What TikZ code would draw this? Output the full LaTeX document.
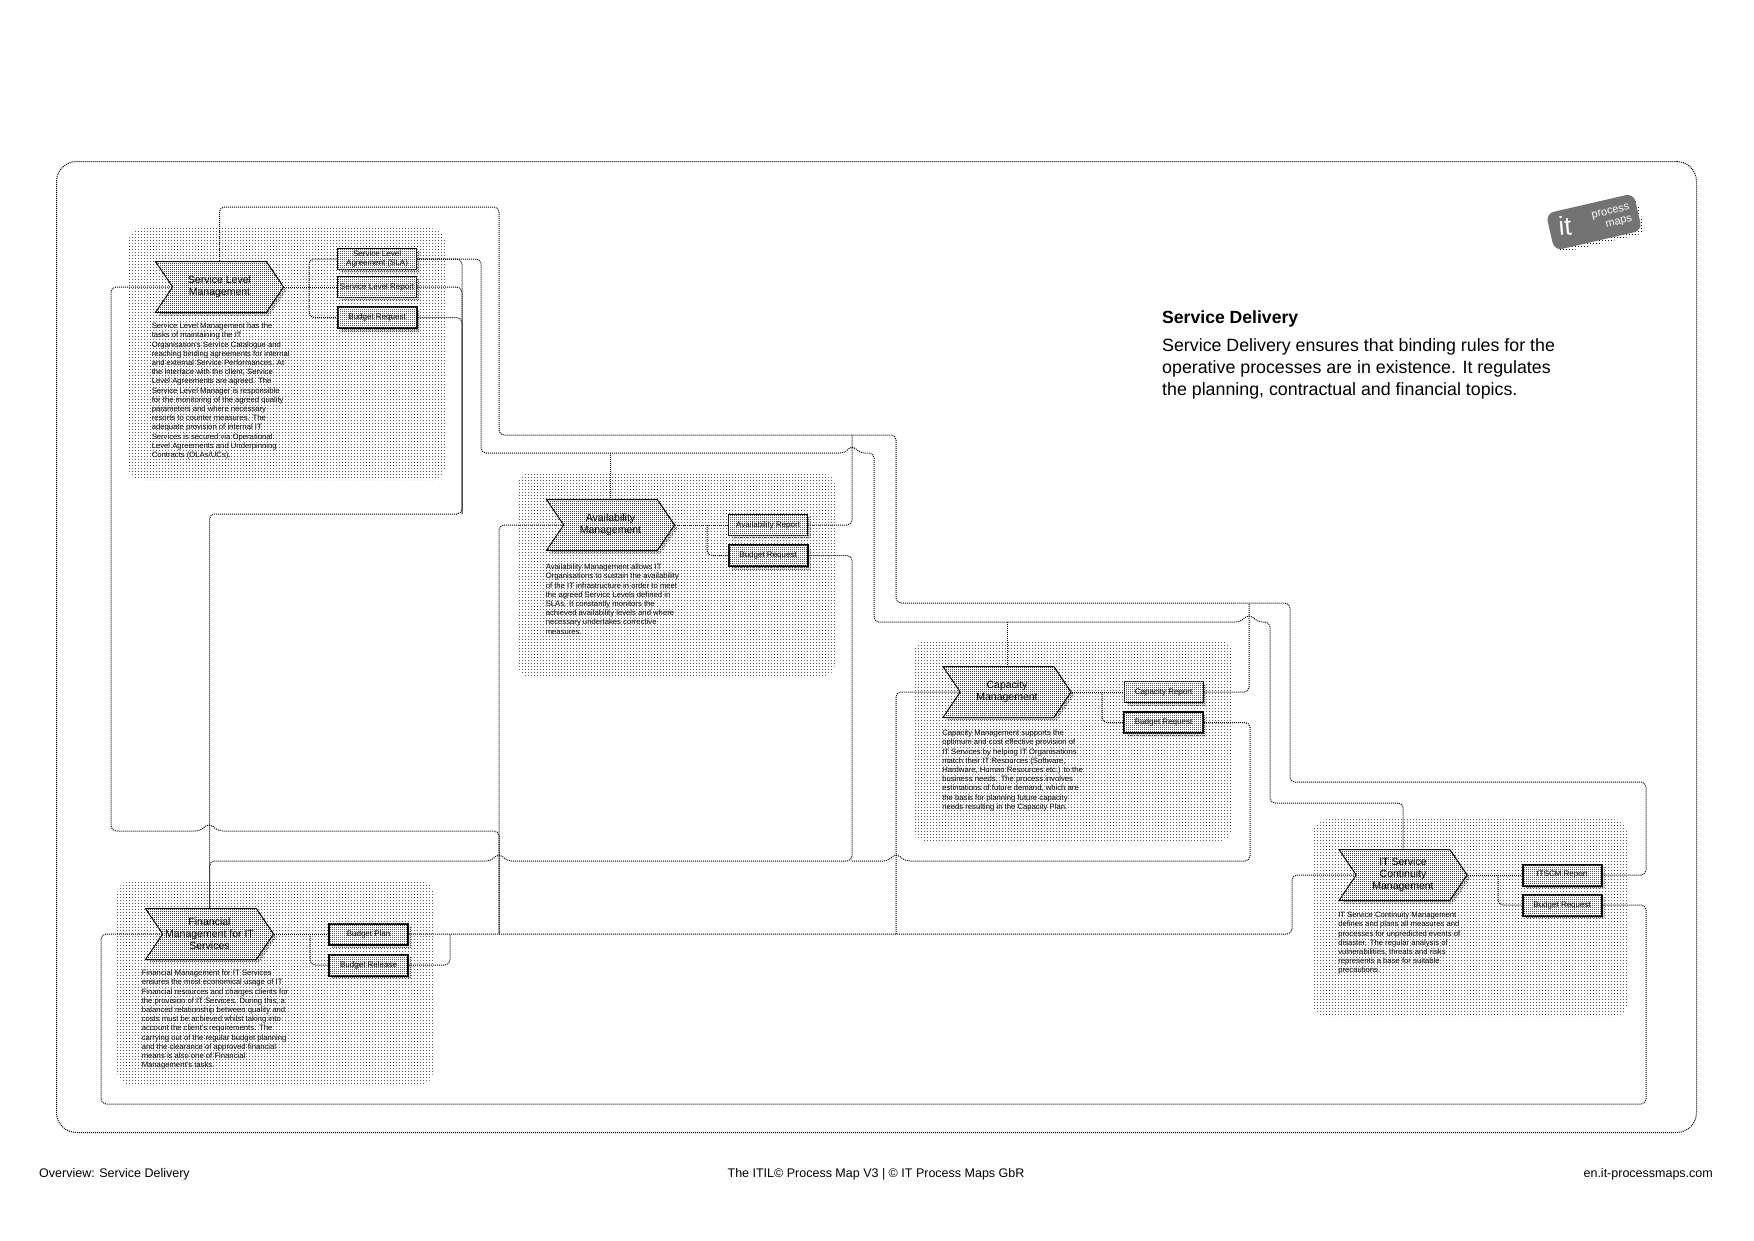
\documentclass[tikz,border=0pt]{standalone}
\usepackage{fontspec}
\setmainfont{Liberation Sans}
\usepackage{tikz}
\usetikzlibrary{positioning,shadows,patterns,shapes.symbols}
\pgfdeclarepatternformonly{regiondots}{\pgfqpoint{0pt}{0pt}}{\pgfqpoint{1pt}{1pt}}{\pgfqpoint{3pt}{3pt}}{\pgfpathrectangle{\pgfqpoint{0pt}{0pt}}{\pgfqpoint{0.75pt}{0.75pt}}\pgfusepath{fill}}
\pgfdeclarepatternformonly{boxdots}{\pgfqpoint{0pt}{0pt}}{\pgfqpoint{1pt}{1pt}}{\pgfqpoint{2pt}{2pt}}{\pgfpathrectangle{\pgfqpoint{0pt}{0pt}}{\pgfqpoint{0.8pt}{0.8pt}}\pgfusepath{fill}}
\pgfdeclarepatternformonly{checker}{\pgfqpoint{0pt}{0pt}}{\pgfqpoint{2pt}{2pt}}{\pgfqpoint{2pt}{2pt}}{\pgfpathrectangle{\pgfqpoint{0pt}{0pt}}{\pgfqpoint{1pt}{1pt}}\pgfpathrectangle{\pgfqpoint{1pt}{1pt}}{\pgfqpoint{1pt}{1pt}}\pgfusepath{fill}}

\begin{document}
\begin{tikzpicture}[x=1pt, y=-1pt, node distance=8pt, every node/.style={font=\fontsize{8}{9.4}\selectfont, inner sep=0pt}]
\tikzstyle{link}=[line width=1pt, dash pattern=on 1pt off 1pt, rounded corners=5pt]
\tikzstyle{frame}=[draw, line width=1pt, dash pattern=on 1pt off 1pt, rounded corners=20pt, anchor=north west]
\tikzstyle{region}=[pattern=regiondots, pattern color=black!65, rounded corners=14pt, anchor=north west]
\tikzstyle{proc}=[signal, signal to=east, signal from=west, signal pointer angle=112, draw, line width=1pt, fill=white, minimum width=128pt, minimum height=51pt, align=center, font=\fontsize{10.5}{12.2}\selectfont, general shadow={shadow xshift=3pt, shadow yshift=-3pt, pattern=checker}, postaction={pattern=boxdots, pattern color=black!75}]
\tikzstyle{outbox}=[draw, line width=1pt, fill=white, minimum width=79pt, minimum height=21pt, align=center, general shadow={shadow xshift=3pt, shadow yshift=-3pt, pattern=checker}, postaction={pattern=boxdots, pattern color=black!65}]
\tikzstyle{budgetbox}=[outbox, line width=2pt]
\tikzstyle{desc}=[align=left, font=\fontsize{7.7}{9.2}\selectfont]
\useasboundingbox (0,0) rectangle (1754,1240);
\node[frame, minimum width=1640pt, minimum height=971pt] (frame) at (56,161) {};
\node[region, minimum width=317pt, minimum height=252pt] (slmreg) at (128,228) {};
\node[region, minimum width=318pt, minimum height=205pt] (avareg) at (517,472) {};
\node[region, minimum width=319pt, minimum height=201pt] (capreg) at (913,640) {};
\node[region, minimum width=314pt, minimum height=198pt] (itsreg) at (1313,819) {};
\node[region, minimum width=316pt, minimum height=205pt] (finreg) at (117,880) {};
\node[proc] (slm) at (219.5,287) {Service Level\\Management};
\node[outbox, right=53pt of slm] (slr) {Service Level Report};
\node[outbox, above=6pt of slr] (sla) {Service Level\\Agreement (SLA)};
\node[budgetbox, below=of slr] (slb) {Budget Request};
\node[desc, below right=10pt and -3pt of slm.south west] (slmtext) {Service Level Management has the\\tasks of maintaining the IT\\Organisation's Service Catalogue and\\reaching binding agreements for internal\\and external Service Performances. At\\the interface with the client, Service\\Level Agreements are agreed. The\\Service Level Manager is responsible\\for the monitoring of the agreed quality\\parameters and where necessary\\resorts to counter measures. The\\adequate provision of internal IT\\Services is secured via Operational\\Level Agreements and Underpinning\\Contracts (OLAs/UCs).};
\node[proc] (ava) at (610.5,525) {Availability\\Management};
\node[outbox, right=53pt of ava] (avr) {Availability Report};
\node[budgetbox, below=of avr] (avb) {Budget Request};
\node[desc, below right=13pt and 0pt of ava.south west] (avatext) {Availability Management allows IT\\Organisations to sustain the availability\\of the IT infrastructure in order to meet\\the agreed Service Levels defined in\\SLAs. It constantly monitors the\\achieved availability levels and where\\necessary undertakes corrective\\measures.};
\node[proc] (cap) at (1007,692) {Capacity\\Management};
\node[outbox, right=52pt of cap] (car) {Capacity Report};
\node[budgetbox, below=of car] (cab) {Budget Request};
\node[desc, below right=12pt and 0pt of cap.south west] (captext) {Capacity Management supports the\\optimum and cost effective provision of\\IT Services by helping IT Organisations\\match their IT Resources (Software,\\Hardware, Human Resources etc.) to the\\business needs. The process involves\\estimations of future demand, which are\\the basis for planning future capacity\\needs resulting in the Capacity Plan.};
\node[proc] (its) at (1403,875) {IT Service\\Continuity\\Management};
\node[budgetbox, right=54pt of its] (itr) {ITSCM Report};
\node[budgetbox, below=7pt of itr] (itb) {Budget Request};
\node[desc, below right=11pt and 0pt of its.south west] (itstext) {IT Service Continuity Management\\defines and plans all measures and\\processes for unpredicted events of\\disaster. The regular analysis of\\vulnerabilities, threats and risks\\represents a base for suitable\\precautions.};
\node[proc] (fin) at (209.5,934) {Financial\\Management for IT\\Services};
\node[budgetbox, right=54pt of fin] (fpl) {Budget Plan};
\node[budgetbox, below=of fpl] (fbr) {Budget Release};
\node[desc, below right=10pt and -3pt of fin.south west] (fintext) {Financial Management for IT Services\\ensures the most economical usage of IT\\Financial resources and charges clients for\\the provision of IT Services. During this, a\\balanced relationship between quality and\\costs must be achieved whilst taking into\\account the client's requirements. The\\carrying out of the regular budget planning\\and the clearance of approved financial\\means is also one of Financial\\Management's tasks.};
\coordinate (avajoin) at (852,435);
\coordinate (capjoin) at (1249,603);
\coordinate (slabus) at (481,453);
\coordinate (capbus) at (874,622);
\coordinate (finbus) at (462,514);
\coordinate (avbbus) at (852,861);
\coordinate (slmback) at (499,934);
\coordinate (capback) at (896,934);
\coordinate (relback) at (450,934);
\coordinate (itsback) at (1292,875);
\coordinate (slmfork) at (309,287);
\coordinate (avafork) at (707,525);
\coordinate (capfork) at (1102,692);
\coordinate (itsfork) at (1498,875);
\coordinate (finfork) at (310,934);
\draw[link] (slm.north) |- (499,207) |- (896,435) |- (1290,603) |- (1646,782) |- (itr.east);
\draw[link] (avr.east) -| (avajoin);
\draw[link] (car.east) -| (capjoin);
\draw[link] (sla.east) -| (slabus) -- (845,453) -- (852,445) -- (860,453) -| (capbus) -- (1240,622) -- (1249,614) -- (1258,622) -| (1270,803) -| (its.north);
\draw[link] (slabus -| ava.north) -- (ava.north);
\draw[link] (capbus -| cap.north) -- (cap.north);
\draw[link] (sla.east) -| (finbus) -| (fin.north);
\draw[link] (slr.east) -| (finbus);
\draw[link] (slb.east) -| (finbus);
\draw[link] (slm.west) -| (111,831) -- (200,831) -- (209,823) -- (218,831) -| (slmback);
\draw[link] (ava.west) -| (slmback);
\draw[link] (avb.east) -| (avbbus) -- (507,861) -- (499,853) -- (491,861) -| (fin.north);
\draw[link] (cab.east) -| (1250,861) -- (905,861) -- (896,853) -- (888,861) -- (avbbus);
\draw[link] (fpl.east) -| (itsback) -- (its.west);
\draw[link] (capback) |- (cap.west);
\draw[link] (fbr.east) -| (relback);
\draw[link] (itb.east) -| (1646,1104) -| (101,934) -- (fin.west);
\draw[link] (slm.east) -- (slr.west);
\draw[link] (slmfork) |- (sla.west);
\draw[link] (slmfork) |- (slb.west);
\draw[link] (ava.east) -- (avr.west);
\draw[link] (avafork) |- (avb.west);
\draw[link] (cap.east) -- (car.west);
\draw[link] (capfork) |- (cab.west);
\draw[link] (its.east) -- (itr.west);
\draw[link] (itsfork) |- (itb.west);
\draw[link] (fin.east) -- (fpl.west);
\draw[link] (finfork) |- (fbr.west);
\node[rotate=13, rounded corners=8pt, fill=black!55, minimum width=90pt, minimum height=38pt, general shadow={shadow xshift=3pt, shadow yshift=-3pt, pattern=regiondots}] (logo) at (1594,222) {};
\node[rotate=5, text=white, font=\fontsize{26}{26}\selectfont] (logoit) at (1565,226) {it};
\node[rotate=13, text=white, align=right, font=\fontsize{11}{12}\selectfont] (logotext) at (1612,218) {process\\maps};
\node[anchor=north west, font=\fontsize{17.6}{21}\bfseries\selectfont] (title) at (1162,311) {Service Delivery};
\node[below right=11pt and 0pt of title.south west, align=left, font=\fontsize{17.8}{21.7}\selectfont] (intro) {Service Delivery ensures that binding rules for the\\operative processes are in existence. It regulates\\the planning, contractual and financial topics.};
\node[anchor=west, font=\fontsize{12.5}{14}\selectfont] (footleft) at (39,1174) {Overview: Service Delivery};
\node[font=\fontsize{12.5}{14}\selectfont] (footmid) at (876,1174) {The ITIL© Process Map V3 | © IT Process Maps GbR};
\node[anchor=east, font=\fontsize{12.5}{14}\selectfont] (footright) at (1713,1174) {en.it-processmaps.com};
\end{tikzpicture}
\end{document}
